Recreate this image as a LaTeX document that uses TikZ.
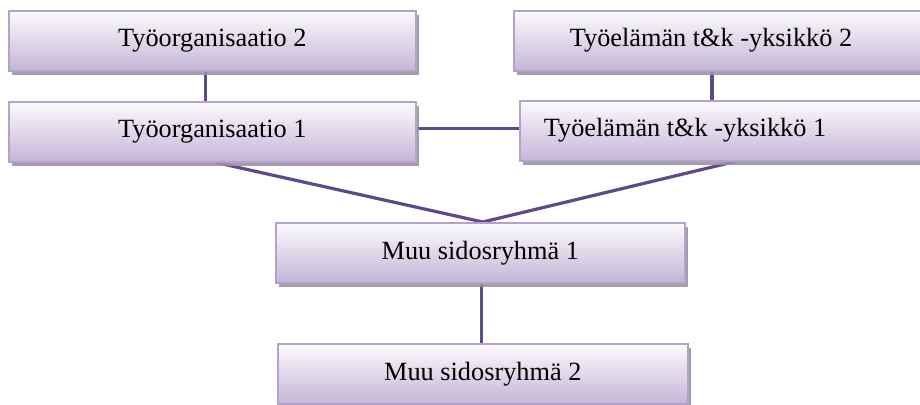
\documentclass[tikz,border=0pt]{standalone}
\usepackage{fontspec}
\setmainfont{Liberation Serif}
\usetikzlibrary{shadows,backgrounds}

\definecolor{boxedge}{HTML}{B3A3CB}
\definecolor{boxtop}{HTML}{FCFBFD}
\definecolor{boxbottom}{HTML}{C4B5D7}
\definecolor{boxshadow}{HTML}{9A92A2}
\definecolor{linkcol}{HTML}{5E4A84}

\tikzset{
  unitbox/.style={draw=boxedge, line width=1.6pt, top color=boxtop, bottom color=boxbottom,
    minimum height=60pt, inner sep=0pt, anchor=north west,
    drop shadow={shadow xshift=3pt, shadow yshift=-4pt, fill=boxshadow, opacity=0.9}},
  unitlabel/.style={font=\fontsize{26.3}{30}\selectfont, inner sep=0pt},
  link/.style={draw=linkcol, line width=3.2pt}
}

\begin{document}
\begin{tikzpicture}[x=1pt, y=-1pt]
  \useasboundingbox (0,0) rectangle (920,404);
  \clip (0,0) rectangle (920,404);

  % boxes
  \node[unitbox, minimum width=407pt] (to2) at (8,10) {};
  \node[unitbox, minimum width=407pt] (to1) at (8,101) {};
  \node[unitbox, minimum width=430pt] (te2) at (513,10) {};
  \node[unitbox, minimum width=430pt] (te1) at (519,100) {};
  \node[unitbox, minimum width=409pt] (muu1) at (275,222) {};
  \node[unitbox, minimum width=410pt] (muu2) at (277,343) {};

  % labels
  \node[unitlabel] (to2t) at (to2.center) {Työorganisaatio 2};
  \node[unitlabel] (to1t) at (to1.center) {Työorganisaatio 1};
  \node[unitlabel] (te2t) at (711,40) {Työelämän t\&k -yksikkö 2};
  \node[unitlabel] (te1t) at (685,130) {Työelämän t\&k -yksikkö 1};
  \node[unitlabel] (muu1t) at (muu1.center) {Muu sidosryhmä 1};
  \node[unitlabel] (muu2t) at (muu2.center) {Muu sidosryhmä 2};

  % connectors, behind the boxes
  \coordinate (teaxis) at (712,0);
  \begin{scope}[on background layer]
    \draw[link] ([xshift=-6.5pt]to2.south) -- ([xshift=-6.5pt]to1.north);
    \draw[link] (te2.south -| teaxis) -- (te1.north -| teaxis);
    \draw[link] ([yshift=3pt]to1.east) -- ([yshift=3pt]to1.east -| te1.west);
    \draw[link] ([xshift=4pt]to1.south) -- ([xshift=2.5pt]muu1.north)
                -- (te1.south);
    \draw[link] ([xshift=1.5pt]muu1.south) -- ([xshift=1.5pt]muu1.south |- muu2.north);
  \end{scope}
\end{tikzpicture}
\end{document}
